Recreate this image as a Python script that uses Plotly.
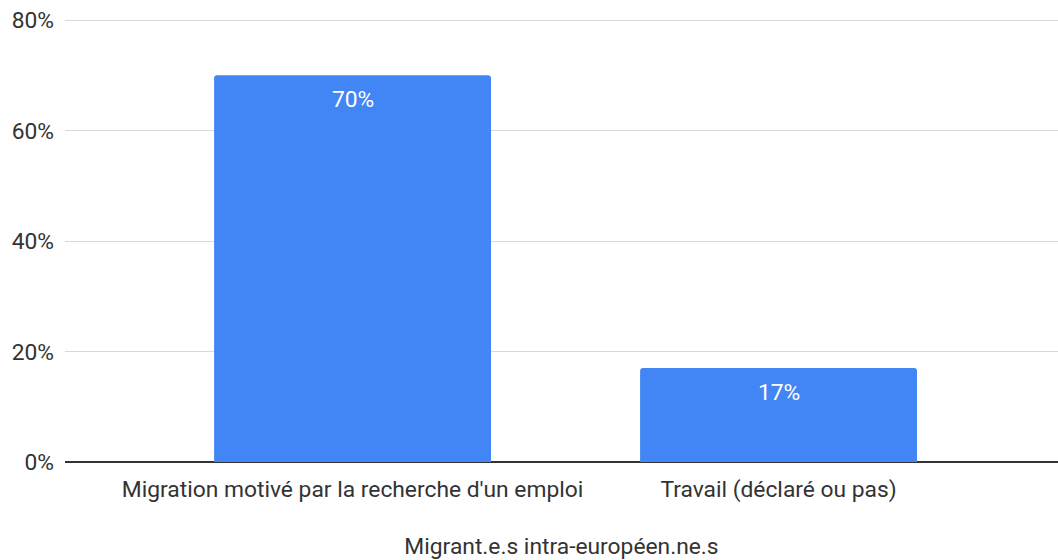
import plotly.graph_objects as go

categories = ["Migration motivé par la recherche d'un emploi", "Travail (déclaré ou pas)"]
values = [70, 17]
labels = ["70%", "17%"]
y_ticks = [0, 20, 40, 60, 80]
y_ticktext = ["0%", "20%", "40%", "60%", "80%"]
x_title = "Migrant.e.s intra-européen.ne.s"

FS = 22.8

fig = go.Figure()
fig.add_trace(go.Bar(
    x=categories, y=values,
    marker=dict(color="#4285F4", line=dict(width=0), cornerradius=3),
    width=0.65,
    hoverinfo="skip",
))
for c, v, t in zip(categories, values, labels):
    fig.add_annotation(x=c, y=v, text=t, showarrow=False, yanchor="middle",
                       yshift=-24, font=dict(family="Roboto", size=FS, color="#ffffff"))

fig.update_layout(
    width=1058, height=560,
    margin=dict(l=65, r=0, t=19, b=98),
    paper_bgcolor="white", plot_bgcolor="white",
    font=dict(family="Roboto", size=FS, color="#333333"),
    showlegend=False,
    bargap=0.35,
)
fig.update_xaxes(
    range=[-0.675, 1.656],
    showgrid=False, showline=False, zeroline=False,
    ticks="", ticklabelstandoff=11,
    tickfont=dict(family="Roboto", size=FS, color="#333333"),
    title=dict(text=x_title, standoff=41, font=dict(family="Roboto", size=FS, color="#333333")),
)
fig.update_yaxes(
    range=[0, 80.2], tickvals=y_ticks, ticktext=y_ticktext,
    showgrid=True, gridcolor="#d9d9d9", gridwidth=1,
    zeroline=True, zerolinecolor="#333333", zerolinewidth=2,
    showline=False, ticks="", ticklabelstandoff=10,
    tickfont=dict(family="Roboto", size=FS, color="#333333"),
)

fig.write_html("out.html", config={"displayModeBar": False},
               post_script="document.body.style.margin='0';")
